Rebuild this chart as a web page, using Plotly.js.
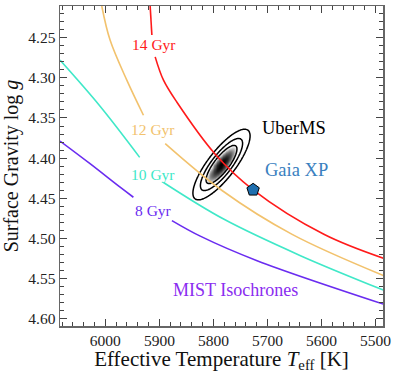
<!DOCTYPE html>
<html>
<head>
<meta charset="utf-8">
<script src="https://cdn.plot.ly/plotly-3.0.1.min.js"></script>
<style>
  body { margin: 0; background: #fff; }
  #chart { width: 397px; height: 373px; }
</style>
</head>
<body>
<div id="chart"></div>
<script>
// MIST isochrones (Teff in K, log g); null = gap left for the label
var iso14_teff = [5917.1, 5913.9, null, 5907.8, 5892.4, 5867.5, 5797.0, 5726.5, 5595.5, 5485.3];
var iso14_logg = [4.2104, 4.2466, null, 4.2738, 4.3029, 4.3304, 4.3948, 4.4395, 4.4949, 4.5248];

var iso12_teff = [6006.7, 5991.3, 5960.3, 5929.5, null, 5889.2, 5784.0, 5654.2, 5485.3];
var iso12_logg = [4.2104, 4.2529, 4.3029, 4.3466, null, 4.3820, 4.4404, 4.4951, 4.5464];

var iso10_teff = [6084.0, 6009.8, 5936.5, null, 5892.4, 5781.1, 5638.8, 5485.3];
var iso10_logg = [4.2779, 4.3354, 4.3991, null, 4.4304, 4.4760, 4.5216, 4.5645];

var iso8_teff = [6084.0, 6028.4, 5972.7, 5948.1, null, 5876.8, 5824.3, 5719.1, 5485.3];
var iso8_logg = [4.3788, 4.4070, 4.4363, 4.4488, null, 4.4779, 4.4973, 4.5279, 4.5820];

var iso_names = ['14 Gyr', '12 Gyr', '10 Gyr', '8 Gyr'];
var iso_colors = ['#ff1a1a', '#f2c26d', '#40e8c8', '#6a2cf0'];
var label_teff = [5910, 5911, 5911, 5910];
var label_logg = [4.259, 4.364, 4.421, 4.465];

// UberMS posterior summary (mean, spread, correlation)
var uber_teff = 5785, uber_sig_teff = 28.6;
var uber_logg = 4.408, uber_sig_logg = 0.0238;
var uber_rho = 0.81;
var uber_levels = [1.0, 1.35, 1.85];   // contour radii in sigma

// Gaia XP point
var gaia_teff = [5726.5];
var gaia_logg = [4.4395];


// Builds the gridded density for the UberMS posterior
function posterior_grid(){
	var xs = [], ys = [], z = [];
	var i, j;
	for (i = 0; i <= 140; i++) xs.push(5690 + i * 1.4);
	for (j = 0; j <= 140; j++) ys.push(4.32 + j * 0.0013);
	for (j = 0; j < ys.length; j++){
		var row = [];
		for (i = 0; i < xs.length; i++){
			var u = (xs[i] - uber_teff) / uber_sig_teff;
			var v = (ys[j] - uber_logg) / uber_sig_logg;
			var r2 = (u*u - 2*uber_rho*u*v + v*v) / (1 - uber_rho*uber_rho);
			row.push(Math.exp(-r2 / 2));
		}
		z.push(row);
	}
	return {x: xs, y: ys, z: z};
}

var grid = posterior_grid();
var lev = uber_levels.map(function(r){ return Math.exp(-r*r/2); });

var data = [];
var k;
var iso_teff = [iso14_teff, iso12_teff, iso10_teff, iso8_teff];
var iso_logg = [iso14_logg, iso12_logg, iso10_logg, iso8_logg];
for (k = 0; k < 4; k++){
	data.push({
		x: iso_teff[k], y: iso_logg[k],
		mode: 'lines', type: 'scatter',
		line: {color: iso_colors[k], width: 1.6, shape: 'spline', smoothing: 1},
		connectgaps: false, hoverinfo: 'skip', showlegend: false
	});
}

// shaded core + opaque white inside the outer contour
data.push({
	type: 'heatmap', x: grid.x, y: grid.y, z: grid.z,
	zmin: 0, zmax: 1, zsmooth: 'best', showscale: false, hoverinfo: 'skip',
	colorscale: [
		[0, 'rgba(255,255,255,0)'],
		[lev[2] - 0.001, 'rgba(255,255,255,0)'],
		[lev[2], 'rgba(255,255,255,1)'],
		[lev[0], 'rgba(255,255,255,1)'],
		[0.8, 'rgba(110,110,110,1)'],
		[1, 'rgba(0,0,0,1)']
	]
});

data.push({
	type: 'contour', x: grid.x, y: grid.y, z: grid.z,
	autocontour: false,
	contours: {coloring: 'none', start: lev[2], end: lev[0], size: (lev[0] - lev[2]) / 2},
	line: {color: '#000', width: 1.5, smoothing: 1},
	showscale: false, hoverinfo: 'skip'
});

data.push({
	x: gaia_teff, y: gaia_logg, mode: 'markers', type: 'scatter',
	marker: {symbol: 'pentagon', size: 13, color: '#1f6faf', line: {color: '#000', width: 1}},
	hoverinfo: 'skip', showlegend: false
});

var serif = 'Liberation Serif';
var annotations = [];
for (k = 0; k < 4; k++){
	annotations.push({
		x: label_teff[k], y: label_logg[k], xref: 'x', yref: 'y',
		text: iso_names[k], showarrow: false,
		font: {family: serif, size: 15.5, color: iso_colors[k]}
	});
}
annotations.push({x: 5650, y: 4.363, xref: 'x', yref: 'y', text: 'UberMS', showarrow: false,
	font: {family: serif, size: 18.5, color: '#000'}});
annotations.push({x: 5646, y: 4.4145, xref: 'x', yref: 'y', text: 'Gaia XP', showarrow: false,
	font: {family: serif, size: 18.5, color: '#3a80c0'}});
annotations.push({x: 5759, y: 4.5645, xref: 'x', yref: 'y', text: 'MIST Isochrones', showarrow: false,
	font: {family: serif, size: 18, color: '#8a2cf0'}});

function make_axis(extra){
	var ax = {
		showgrid: false, zeroline: false,
		showline: true, linecolor: '#666', linewidth: 1.5, mirror: 'allticks',
		ticks: 'inside', ticklen: 7, tickwidth: 1, tickcolor: '#444',
		tickfont: {family: serif, size: 15.5, color: '#222'}
	};
	return Object.assign(ax, extra);
}

var layout = {
	width: 397, height: 373,
	margin: {l: 60, r: 14, t: 6, b: 47},
	paper_bgcolor: '#fff', plot_bgcolor: '#fff',
	showlegend: false,
	font: {family: serif, size: 15.5, color: '#222'},
	annotations: annotations,
	xaxis: make_axis({
		range: [6084, 5486], dtick: 100, tick0: 5500,
		minor: {dtick: 20, ticks: 'inside', ticklen: 4, tickcolor: '#444', showgrid: false},
		title: {text: 'Effective Temperature <i>T</i><sub>eff</sub> [K]', standoff: 5,
			font: {family: serif, size: 21, color: '#111'}}
	}),
	yaxis: make_axis({
		range: [4.6093, 4.2104], dtick: 0.05, tick0: 4.2, tickformat: '.2f',
		minor: {dtick: 0.01, ticks: 'inside', ticklen: 4, tickcolor: '#444', showgrid: false},
		title: {text: 'Surface Gravity log <i>g</i>', standoff: 6,
			font: {family: serif, size: 20, color: '#111'}}
	})
};

Plotly.newPlot('chart', data, layout, {displayModeBar: false, staticPlot: true});
</script>
</body>
</html>
